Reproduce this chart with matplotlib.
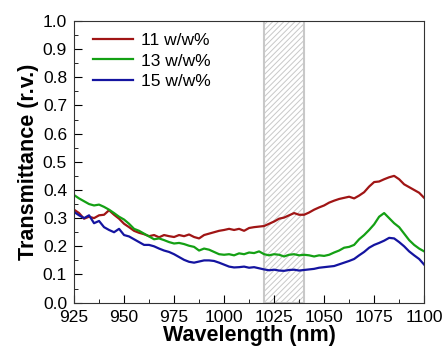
import matplotlib
matplotlib.use("Agg")
import matplotlib.pyplot as plt
from matplotlib.ticker import MultipleLocator

plt.rcParams["font.family"] = ["Liberation Sans", "DejaVu Sans"]
plt.rcParams["hatch.linewidth"] = 0.7

wavelength = [925 + 2.5 * i for i in range(71)]

t_11 = [0.330, 0.318, 0.298, 0.305, 0.300, 0.310, 0.312, 0.328, 0.312, 0.298,
        0.280, 0.268, 0.255, 0.248, 0.243, 0.236, 0.240, 0.232, 0.240, 0.236,
        0.233, 0.240, 0.236, 0.242, 0.233, 0.228, 0.240, 0.245, 0.250, 0.255,
        0.258, 0.262, 0.258, 0.262, 0.255, 0.265, 0.268, 0.270, 0.272, 0.280,
        0.288, 0.298, 0.302, 0.310, 0.318, 0.312, 0.312, 0.320, 0.330, 0.338,
        0.345, 0.355, 0.362, 0.368, 0.372, 0.376, 0.370, 0.380, 0.392, 0.412,
        0.428, 0.430, 0.438, 0.445, 0.450, 0.438, 0.420, 0.410, 0.400, 0.390,
        0.372]

t_13 = [0.382, 0.370, 0.360, 0.350, 0.345, 0.348, 0.340, 0.330, 0.318, 0.305,
        0.295, 0.280, 0.262, 0.255, 0.245, 0.235, 0.225, 0.228, 0.222, 0.215,
        0.210, 0.212, 0.208, 0.202, 0.198, 0.185, 0.192, 0.188, 0.180, 0.172,
        0.170, 0.172, 0.168, 0.175, 0.172, 0.178, 0.176, 0.182, 0.172, 0.168,
        0.172, 0.170, 0.164, 0.170, 0.172, 0.168, 0.170, 0.168, 0.164, 0.168,
        0.166, 0.170, 0.178, 0.185, 0.195, 0.198, 0.205, 0.225, 0.240, 0.258,
        0.278, 0.305, 0.318, 0.300, 0.282, 0.268, 0.245, 0.222, 0.205, 0.192,
        0.182]

t_15 = [0.322, 0.310, 0.300, 0.310, 0.282, 0.290, 0.268, 0.258, 0.250, 0.262,
        0.240, 0.235, 0.225, 0.215, 0.205, 0.205, 0.200, 0.192, 0.185, 0.180,
        0.172, 0.162, 0.152, 0.145, 0.142, 0.146, 0.150, 0.150, 0.148, 0.142,
        0.135, 0.128, 0.125, 0.126, 0.128, 0.124, 0.126, 0.122, 0.118, 0.115,
        0.117, 0.114, 0.113, 0.116, 0.117, 0.114, 0.116, 0.118, 0.120, 0.124,
        0.126, 0.128, 0.130, 0.136, 0.142, 0.148, 0.155, 0.168, 0.180, 0.195,
        0.205, 0.212, 0.220, 0.230, 0.228, 0.215, 0.200, 0.182, 0.168, 0.155,
        0.135]

labels = ["11 w/w%", "13 w/w%", "15 w/w%"]
colors = ["#a01515", "#14a014", "#1414a0"]
band = (1020, 1040)

fig = plt.figure(figsize=(4.46, 3.54), dpi=100)
ax = fig.add_axes([0.166, 0.145, 0.785, 0.796])

ax.axvspan(band[0], band[1], facecolor="white", edgecolor="#c8c8c8",
           hatch="//////", linewidth=1.5, zorder=0)

for y, lab, c in zip([t_11, t_13, t_15], labels, colors):
    ax.plot(wavelength, y, color=c, lw=1.6, label=lab)

ax.set_xlim(925, 1100)
ax.set_ylim(0, 1.0)
ax.xaxis.set_major_locator(MultipleLocator(25))
ax.xaxis.set_minor_locator(MultipleLocator(12.5))
ax.yaxis.set_major_locator(MultipleLocator(0.1))
ax.yaxis.set_minor_locator(MultipleLocator(0.05))
ax.tick_params(which="both", direction="in", top=False, right=False,
               labelsize=12.5)
ax.tick_params(axis="x", pad=5)
ax.tick_params(axis="y", pad=5)
ax.tick_params(which="major", length=6)
ax.tick_params(which="minor", length=3)
for s in ax.spines.values():
    s.set_color("#333333")

ax.set_xlabel("Wavelength (nm)", fontsize=15.5, fontweight="bold", labelpad=0)
ax.set_ylabel("Transmittance (r.v.)", fontsize=15.5, fontweight="bold", labelpad=3)

ax.legend(loc="upper left", frameon=False, fontsize=12.5, handlelength=2.3,
          handletextpad=0.45, labelspacing=0.3, borderaxespad=0.3,
          bbox_to_anchor=(0.02, 1.0))

fig.savefig("out.png", dpi=100)
